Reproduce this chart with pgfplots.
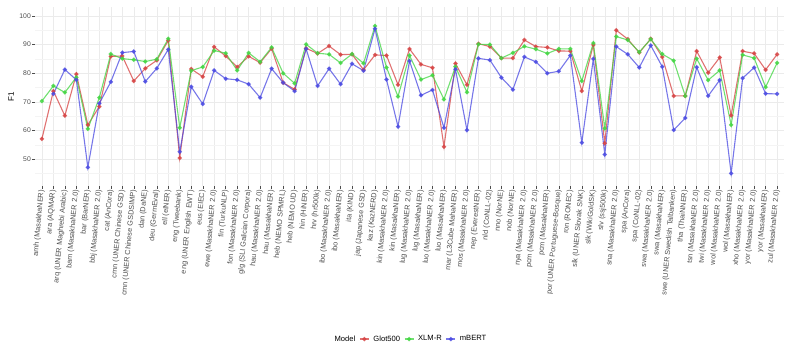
\documentclass[border=0pt]{standalone}
\usepackage{fontspec}
\setmainfont{Liberation Sans}
\usepackage{pgfplots}
\usepackage{pgfplotstable}
\pgfplotsset{compat=1.18}
\definecolor{cGlot}{HTML}{D64242}
\definecolor{cXlmr}{HTML}{42D642}
\definecolor{cMbert}{HTML}{4A4AE2}
\definecolor{gridMaj}{HTML}{EBEBEB}
\definecolor{gridMin}{HTML}{F4F4F4}
\definecolor{txt}{HTML}{4D4D4D}

% F1 per dataset, index = position on x axis
\pgfplotstableread{
x glot xlmr mbert
0 57.1 70.3 nan
1 73.8 75.6 72.8
2 65.2 73.3 81.3
3 79.7 78.6 77.7
4 62.0 60.6 47.2
5 68.4 71.5 69.5
6 85.9 86.7 77.0
7 86.0 85.1 87.2
8 77.3 84.7 87.6
9 81.7 84.1 77.1
10 84.5 84.9 81.7
11 91.4 92.0 88.3
12 50.5 61.0 52.6
13 81.5 80.9 75.3
14 78.8 82.2 69.3
15 89.2 87.9 81.0
16 86.0 87.0 78.1
17 82.2 81.0 77.7
18 85.9 87.1 76.2
19 83.7 84.0 71.5
20 88.6 89.0 81.6
21 76.7 80.0 76.7
22 74.4 76.5 73.8
23 88.7 90.1 88.5
24 86.9 87.0 75.6
25 89.5 86.6 81.6
26 86.5 83.6 76.2
27 86.6 86.7 83.3
28 81.2 83.5 80.9
29 86.4 96.5 95.5
30 86.2 82.0 77.8
31 76.0 71.9 61.4
32 88.5 86.2 84.3
33 83.1 77.8 72.3
34 81.9 79.3 74.2
35 54.4 70.9 61.0
36 83.4 82.3 81.4
37 76.0 73.4 60.2
38 90.3 90.1 85.2
39 89.3 90.0 84.6
40 85.3 85.3 78.5
41 85.3 87.1 74.3
42 91.6 89.4 85.7
43 89.3 88.4 84.0
44 89.0 86.9 80.0
45 87.8 88.5 80.7
46 87.7 88.5 86.2
47 73.8 77.3 55.8
48 89.9 90.5 85.0
49 55.6 60.8 51.7
50 95.0 92.8 89.3
51 91.9 91.6 86.6
52 87.2 87.4 82.0
53 92.0 91.9 89.7
54 85.7 86.7 82.3
55 72.1 84.4 60.2
56 72.1 72.1 64.4
57 87.7 85.1 82.1
58 80.2 77.6 72.1
59 85.5 81.0 77.6
60 65.3 62.0 45.1
61 87.7 86.4 78.3
62 86.9 85.3 82.0
63 81.2 75.2 72.9
64 86.6 83.6 72.8
}\scores

\begin{document}
\begin{tikzpicture}
\begin{axis}[
    name=ax,
    scale only axis, width=749bp, height=179bp,
    xmin=-0.6, xmax=64.6, ymin=40.7, ymax=103.1,
    axis line style={draw=none},
    tick pos=left, tick align=outside,
    major tick length=2.5bp,
    tick style={txt, line width=0.4bp},
    xtick={0,...,64},
    xticklabels={{amh (MasakhaNER)},{ara (AQMAR)},{arq (UNER Maghrebi Arabic)},{bam (MasakhaNER 2.0)},{bar (BarNER)},{bbj (MasakhaNER 2.0)},{cat (AnCora)},{cmn (UNER Chinese GSD)},{cmn (UNER Chinese GSDSIMP)},{dan (DaNE)},{deu (GermEval)},{ell (elNER)},{eng (Tweebank)},{eng (UNER English EWT)},{eus (EIEC)},{ewe (MasakhaNER 2.0)},{fin (TurkuNLP)},{fon (MasakhaNER 2.0)},{glg (SLI Galician Corpora)},{hau (MasakhaNER 2.0)},{hau (MasakhaNER)},{heb (NEMO SPMRL)},{heb (NEMO UD)},{hin (HiNER)},{hrv (hr500k)},{ibo (MasakhaNER 2.0)},{ibo (MasakhaNER)},{ita (KIND)},{jap (Japanese GSD)},{kaz (KazNERD)},{kin (MasakhaNER 2.0)},{kin (MasakhaNER)},{lug (MasakhaNER 2.0)},{lug (MasakhaNER)},{luo (MasakhaNER 2.0)},{luo (MasakhaNER)},{mar (L3Cube MahaNER)},{mos (MasakhaNER 2.0)},{nep (EverestNER)},{nld (CoNLL-02)},{nno (NorNE)},{nob (NorNE)},{nya (MasakhaNER 2.0)},{pcm (MasakhaNER 2.0)},{pcm (MasakhaNER)},{por (UNER Portuguese-Bosque)},{ron (RONEC)},{slk (UNER Slovak SNK)},{slk (WikiGoldSK)},{slv (ssj500k)},{sna (MasakhaNER 2.0)},{spa (AnCora)},{spa (CoNLL-02)},{swa (MasakhaNER 2.0)},{swa (MasakhaNER)},{swe (UNER Swedish Talbanken)},{tha (ThaiNNER)},{tsn (MasakhaNER 2.0)},{twi (MasakhaNER 2.0)},{wol (MasakhaNER 2.0)},{wol (MasakhaNER)},{xho (MasakhaNER 2.0)},{yor (MasakhaNER 2.0)},{yor (MasakhaNER)},{zul (MasakhaNER 2.0)}},
    xticklabel style={rotate=85, anchor=east, font=\fontsize{7.3bp}{8bp}\selectfont, text=txt, inner sep=1.5bp},
    ytick={50,60,70,80,90,100},
    minor ytick={45,55,65,75,85,95},
    yticklabel style={font=\fontsize{6.8bp}{8bp}\selectfont, text=txt, inner sep=1.5bp},
    /pgf/number format/assume math mode=true,
    xmajorgrids, ymajorgrids, yminorgrids,
    major grid style={gridMaj, line width=0.5bp},
    minor grid style={gridMin, line width=0.4bp},
    minor tick length=0pt,
    ylabel={F1},
    every axis y label/.style={at={(rel axis cs:0,0.5)}, xshift=-24bp, rotate=90, anchor=center, font=\fontsize{8bp}{9bp}\selectfont},
    unbounded coords=jump,
    legend columns=4,
    legend style={at={(0.5,-0.855)}, anchor=center, draw=none, fill=none,
        font=\fontsize{7.6bp}{9bp}\selectfont, column sep=2bp},
    legend image code/.code={
        \draw[mark repeat=2, mark phase=2] plot coordinates {(0bp,0bp) (4.5bp,0bp) (9bp,0bp)};
    },
    every axis plot/.append style={line width=1.1bp, mark=*, mark size=1.6bp, opacity=0.75},
]
\addlegendimage{empty legend}
\addlegendentry{Model\hspace{4bp}}
\addplot[cGlot, mark options={fill=cGlot}] table[x=x, y=glot] {\scores};
\addlegendentry{Glot500}
\addplot[cXlmr, mark options={fill=cXlmr}] table[x=x, y=xlmr] {\scores};
\addlegendentry{XLM-R}
\addplot[cMbert, mark options={fill=cMbert}] table[x=x, y=mbert] {\scores};
\addlegendentry{mBERT}
\end{axis}
\pgfresetboundingbox
\path[use as bounding box] ([shift={(-35bp,-167bp)}]ax.south west) rectangle ([shift={(9bp,7bp)}]ax.north east);
\end{tikzpicture}
\end{document}
